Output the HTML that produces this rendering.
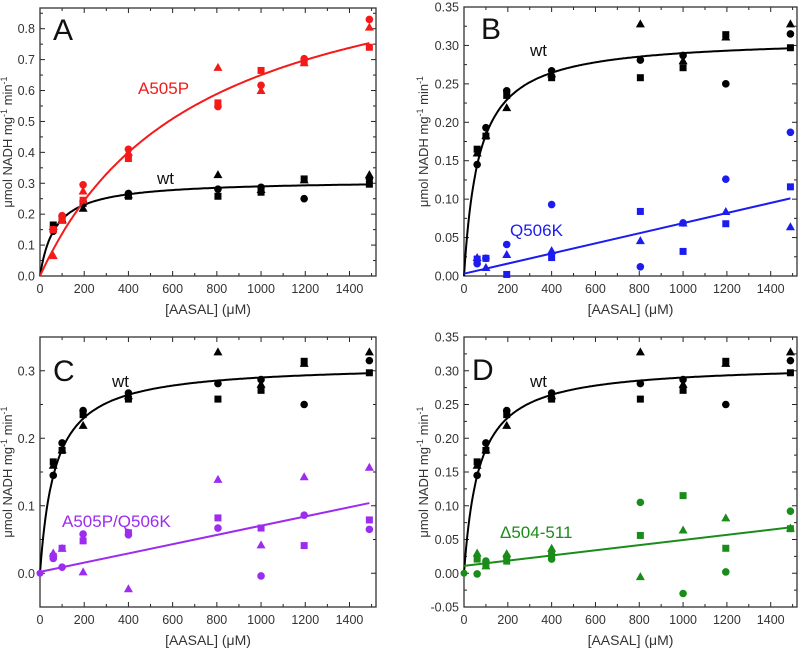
<!DOCTYPE html>
<html><head><meta charset="utf-8"><style>
html,body{margin:0;padding:0;background:#fff;}
svg{display:block;font-family:"Liberation Sans",Arial,sans-serif;}
</style></head><body>
<svg id="fig" width="800" height="648" viewBox="0 0 800 648"></svg>
<script>
const conc = [60,100,195,400,805,1000,1195,1490];
const wtSquare = [0.165,0.182,0.235,0.258,0.258,0.271,0.314,0.297];
const wtCircle = [0.145,0.193,0.241,0.267,0.281,0.287,0.250,0.315];
const wtTriangle = [0.160,0.183,0.219,0.263,0.328,0.280,0.311,0.328];
const wtVmax = 0.31, wtKm = 69;
const aSquare = [0.150,0.190,0.245,0.380,0.560,0.665,0.695,0.740];
const aCircle = [0.150,0.195,0.295,0.410,0.548,0.617,0.703,0.830];
const aTriangle = [0.066,0.180,0.275,0.400,0.675,0.600,0.690,0.805];
const aVmax = 1.115, aKm = 715;
const qSquare = [0.022,0.023,0.002,0.024,0.084,0.032,0.068,0.116];
const qCircle = [0.016,0.023,0.041,0.093,0.012,0.069,0.126,0.187];
const qTriangle = [0.024,0.011,0.028,0.033,0.046,0.069,0.084,0.064];
const qLine = [0.003,0.101];
const dkSquare = [0.025,0.037,0.048,0.060,0.082,0.067,0.041,0.079];
const dkCircle = [0.022,0.009,0.058,0.057,0.067,-0.004,0.086,0.065];
const dkTriangle = [0.030,0.037,0.002,-0.023,0.139,0.042,0.143,0.157];
const dkLine = [0.002,0.104];
const delSquare = [0.021,0.012,0.018,0.028,0.056,0.115,0.037,0.066];
const delCircle = [-0.001,0.018,0.025,0.021,0.105,-0.030,0.002,0.092];
const delTriangle = [0.030,0.011,0.029,0.037,-0.005,0.064,0.082,0.067];
const delLine = [0.011,0.068];
const xTicks = [0,200,400,600,800,1000,1200,1400];
const yTicksA = [0.0,0.1,0.2,0.3,0.4,0.5,0.6,0.7,0.8];
const yTicksB = [0.00,0.05,0.10,0.15,0.20,0.25,0.30,0.35];
const yTicksC = [0.0,0.1,0.2,0.3];
const yTicksD = [-0.05,0.00,0.05,0.10,0.15,0.20,0.25,0.30,0.35];
const XMAX = 1520;

const NS = "http://www.w3.org/2000/svg";
const svg = document.getElementById('fig');
function mk(tag, attrs, parent){const e=document.createElementNS(NS,tag);for(const k in attrs)e.setAttribute(k,attrs[k]);(parent||svg).appendChild(e);return e;}

function panel(cfg){
  const g = mk('g',{});
  
  
  const L=cfg.l,R=cfg.r,T=cfg.t,B=cfg.b;
  const xs = v => L + v/XMAX*(R-L);
  const ys = v => B - (v-cfg.ymin)/(cfg.ymax-cfg.ymin)*(B-T);
  for(let v=0; v<=1500; v+=100){
    const major = v%200===0, len = major?5:3;
    mk('line',{x1:xs(v),x2:xs(v),y1:B,y2:B-len,stroke:'#222','stroke-width':1},g);
    mk('line',{x1:xs(v),x2:xs(v),y1:T,y2:T+len,stroke:'#222','stroke-width':1},g);
  }
  xTicks.forEach(v=>{
    const t=mk('text',{x:xs(v),y:B+17,'text-anchor':'middle','font-size':12.5,fill:'#333'},g);
    t.textContent=v;
    
    
  });
  for(let i=0;i<cfg.yt.length;i++){
    const v=cfg.yt[i];
    mk('line',{x1:L,x2:L+5,y1:ys(v),y2:ys(v),stroke:'#222'},g);
    mk('line',{x1:R,x2:R-5,y1:ys(v),y2:ys(v),stroke:'#222'},g);
    const m=v+cfg.step/2;
    if(m<cfg.ymax){
      mk('line',{x1:L,x2:L+3,y1:ys(m),y2:ys(m),stroke:'#222'},g);
      mk('line',{x1:R,x2:R-3,y1:ys(m),y2:ys(m),stroke:'#222'},g);
    }
    const t=mk('text',{x:L-5,y:ys(v)+4.5,'text-anchor':'end','font-size':12.5,fill:'#333'},g);
    t.textContent=v.toFixed(cfg.dec);
    
    
  }
  const box=mk('rect',{x:L,y:T,width:R-L,height:B-T,fill:'none',stroke:'#333','stroke-width':1.3},g);
  
  
  const xt=mk('text',{x:(L+R)/2,y:B+38,'text-anchor':'middle','font-size':14,fill:'#333'},g);
  xt.textContent='[AASAL] (μM)';
  
  
  const yc=(T+B)/2, yx=L-cfg.ytOff;
  const yt=mk('text',{x:yx,y:yc,'text-anchor':'middle','font-size':13,fill:'#333',transform:`rotate(-90 ${yx} ${yc})`},g);
  yt.innerHTML='μmol NADH mg<tspan dy="-5" font-size="9">-1</tspan><tspan dy="5"> min</tspan><tspan dy="-5" font-size="9">-1</tspan>';
  
  
  cfg.series.forEach(s=>{
    let d='';
    if(s.mm){for(let x=0;x<=1490;x+=5){d+=(x?'L':'M')+xs(x).toFixed(1)+','+ys(s.mm[0]*x/(s.mm[1]+x)).toFixed(1);}}
    else {d='M'+xs(0)+','+ys(s.lin[0])+'L'+xs(1490)+','+ys(s.lin[1]);}
    const p=mk('path',{d:d,fill:'none',stroke:s.color,'stroke-width':2},g);
    
    
    if(s.zero){const z=mk('circle',{cx:xs(0),cy:ys(0),r:3.5,fill:s.color},g);
      
      }
    conc.forEach((c,i)=>{
      const x=xs(c);
      let e=mk('rect',{x:x-3.5,y:ys(s.sq[i])-3.5,width:7,height:7,fill:s.color},g);
      
      
      e=mk('circle',{cx:x,cy:ys(s.ci[i]),r:3.8,fill:s.color},g);
      
      
      const y=ys(s.tr[i]);
      e=mk('polygon',{points:`${x},${y-4.5} ${x-4.5},${y+3.5} ${x+4.5},${y+3.5}`,fill:s.color},g);
      
      
    });
  });
  const lt=mk('text',{x:cfg.lx,y:cfg.ly,'font-size':30,fill:'#111'},g);
  lt.textContent=cfg.letter;
  
  
  cfg.labels.forEach(lb=>{
    const t=mk('text',{x:lb[0],y:lb[1],'font-size':17,fill:lb[3]},g);
    t.textContent=lb[2];
    
    
  });
}
const wt={name:'wt',color:'#000',mm:[wtVmax,wtKm],sq:wtSquare,ci:wtCircle,tr:wtTriangle};
panel({letter:'A',l:40,r:376,t:8,b:276,ymin:0,ymax:0.867,yt:yTicksA,step:0.1,dec:1,ytOff:28,lx:53,ly:40,
  series:[wt,{name:'a505p',color:'#f41a1a',mm:[aVmax,aKm],sq:aSquare,ci:aCircle,tr:aTriangle}],
  labels:[[138,94,'A505P','#f41a1a'],[157,184,'wt','#111']]});
panel({letter:'B',l:464,r:797,t:7,b:276,ymin:0,ymax:0.35,yt:yTicksB,step:0.05,dec:2,ytOff:36,lx:481,ly:39,
  series:[wt,{name:'q506k',color:'#1c1cf0',lin:qLine,sq:qSquare,ci:qCircle,tr:qTriangle,zero:false}],
  labels:[[530,56,'wt','#111'],[510,236,'Q506K','#1c1cf0']]});
panel({letter:'C',l:40,r:376,t:337,b:607,ymin:-0.05,ymax:0.35,yt:yTicksC,step:0.1,dec:1,ytOff:28,lx:53,ly:381,
  series:[wt,{name:'a505p-q506k',color:'#9b2cf0',lin:dkLine,sq:dkSquare,ci:dkCircle,tr:dkTriangle,zero:true}],
  labels:[[112,387,'wt','#111'],[62,527,'A505P/Q506K','#9b2cf0']]});
panel({letter:'D',l:464,r:797,t:337,b:607,ymin:-0.05,ymax:0.35,yt:yTicksD,step:0.05,dec:2,ytOff:36,lx:472,ly:380,
  series:[wt,{name:'delta504-511',color:'#1a8c1a',lin:delLine,sq:delSquare,ci:delCircle,tr:delTriangle,zero:true}],
  labels:[[530,387,'wt','#111'],[500,538,'Δ504-511','#1a8c1a']]});
</script>
</body></html>
